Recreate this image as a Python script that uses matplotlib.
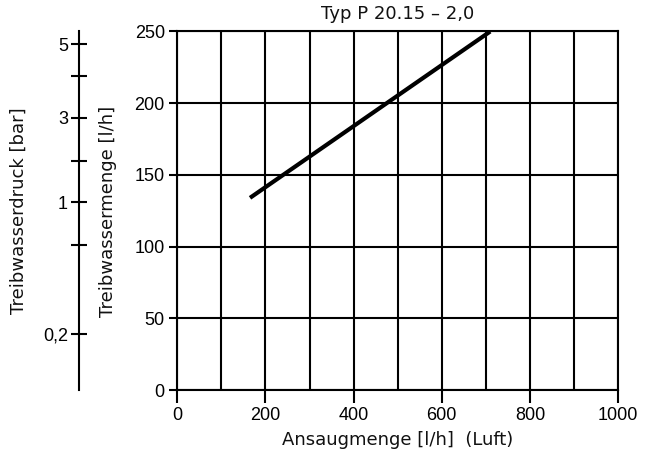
import numpy as np
import matplotlib.pyplot as plt

plt.rcParams['font.family'] = ['Liberation Sans', 'DejaVu Sans']

# ======================
# Data
# ======================
luft = [165, 710]          # Ansaugmenge [l/h]
wasser = [134, 250]        # Treibwassermenge [l/h]

x_ticks = [0, 200, 400, 600, 800, 1000]
x_grid = [100, 300, 500, 700, 900]
y_ticks = [0, 50, 100, 150, 200, 250]

# pressure scale drawn at the flow it corresponds to
druck_labels = ['5', '', '3', '', '1', '', '0,2']
druck_flow = [241, 219, 190, 160, 131, 101, 39]

title = 'Typ P 20.15 – 2,0'

label_font = dict(family=['DejaVu Sans'], fontsize=13, color='#111111')

# ======================
# Figure
# ======================
fig = plt.figure(figsize=(6.5, 4.61), dpi=100)
left, bottom, width, height = 0.2728, 0.154, 0.678, 0.7777
ax = fig.add_axes([left, bottom, width, height])

ax.set_xlim(0, 1000)
ax.set_ylim(0, 250)
ax.set_xticks(x_ticks)
ax.set_yticks(y_ticks)
ax.set_xticks(x_grid, minor=True)

lw = 1.5
for v in x_ticks + x_grid:
    ax.axvline(v, color='black', lw=lw, zorder=1)
for v in y_ticks:
    ax.axhline(v, color='black', lw=lw, zorder=1)
for s in ax.spines.values():
    s.set_linewidth(lw)

ax.tick_params(axis='x', which='major', length=9.5, width=lw, labelsize=13, pad=3)
ax.tick_params(axis='x', which='minor', length=0)
ax.tick_params(axis='y', length=6, width=lw, labelsize=13, pad=3)

ax.plot(luft, wasser, color='black', lw=3, solid_capstyle='butt', zorder=3)

# titles / labels at fixed spots
fig.text(398 / 650, 1 - 14 / 461, title, ha='center', va='center', **label_font)
fig.text(398 / 650, 1 - 440 / 461, 'Ansaugmenge [l/h]  (Luft)', ha='center', va='center', **label_font)
fig.text(108 / 650, 1 - 211 / 461, 'Treibwassermenge [l/h]', ha='center', va='center',
         rotation=90, **label_font)
fig.text(19 / 650, 1 - 211 / 461, 'Treibwasserdruck [bar]', ha='center', va='center',
         rotation=90, **label_font)

# ======================
# Pressure axis
# ======================
ax2 = fig.add_axes([79 / 650, bottom, 0.0001, height])
ax2.set_ylim(0, 250)
ax2.set_xticks([])
ax2.set_yticks(druck_flow)
ax2.set_yticklabels(druck_labels)
for k in ['top', 'right', 'bottom']:
    ax2.spines[k].set_visible(False)
ax2.spines['left'].set_linewidth(lw)
ax2.patch.set_visible(False)
ax2.tick_params(axis='y', direction='inout', length=12, width=lw, labelsize=13, pad=2)

plt.savefig('out.png', dpi=100)
